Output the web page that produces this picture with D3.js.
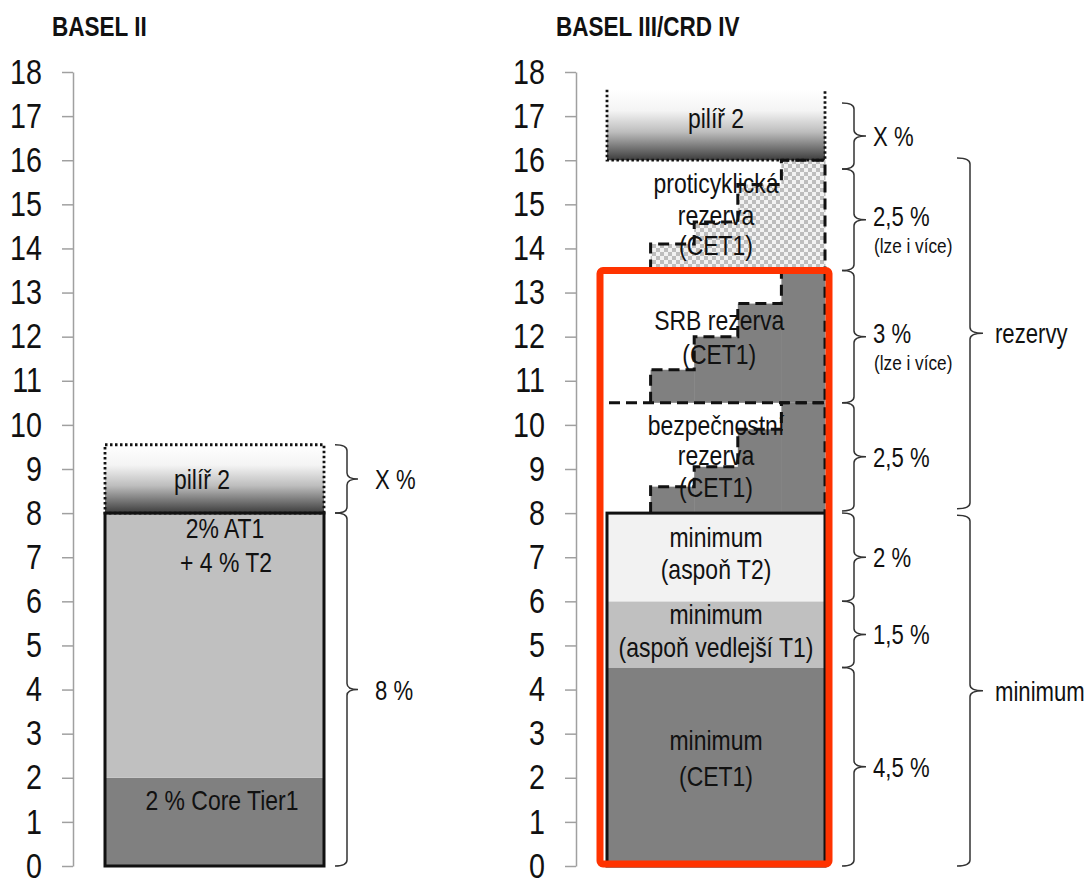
<!DOCTYPE html>
<html><head><meta charset="utf-8">
<script src="https://cdn.jsdelivr.net/npm/d3@7"></script>
<style>
body{margin:0;background:#fff;}
svg{display:block;}
text{font-family:"Liberation Sans",Arial,sans-serif;fill:#111;}
</style></head><body><svg id="c" width="1090" height="879"></svg>
<script>
// ================= DATA =================
const panelTitles = ["BASEL II", "BASEL III/CRD IV"];
const tickValues = [0,1,2,3,4,5,6,7,8,9,10,11,12,13,14,15,16,17,18];
const tickLabels = ["0","1","2","3","4","5","6","7","8","9","10","11","12","13","14","15","16","17","18"];

// Basel II stack
const b2Keys = ["core", "at1t2"];
const b2From = [0, 2];
const b2To = [2, 8];
const b2Pillar2 = [8, 9.55];

// Basel III minimum stack
const b3MinKeys = ["cet1", "at1", "t2"];
const b3MinFrom = [0, 4.5, 6];
const b3MinTo = [4.5, 6, 8];

// Basel III buffers drawn as staircases over five columns
const stepCols = ["c1", "c2", "c3", "c4", "c5"];
const conservationSteps = [8, 8.6, 9.05, 9.9, 10.5];
const srbSteps = [10.5, 11.25, 12.0, 12.75, 13.5];
const ccybSteps = [13.5, 14.1, 14.6, 15.45, 16.0];
const b3Pillar2 = [16, 17.6];
const highlightRange = [0, 13.5];

// In-bar labels (text + baseline value)
const b2LabelText = ["2 % Core Tier1", "2% AT1", "+ 4 % T2", "pilíř 2"];
const b2LabelValue = [1.27, 7.44, 6.67, 8.55];
const b3LabelText = ["pilíř 2", "proticyklická", "rezerva", "(CET1)", "SRB rezerva", "(CET1)",
  "bezpečnostní", "rezerva", "(CET1)", "minimum", "(aspoň T2)", "minimum", "(aspoň vedlejší T1)", "minimum", "(CET1)"];
const b3LabelValue = [16.73, 15.26, 14.53, 13.85, 12.15, 11.38, 9.77, 9.09, 8.37, 7.23, 6.51, 5.49, 4.74, 2.63, 1.81];

// Braces
const b2BraceFrom = [8, 0];
const b2BraceTo = [9.55, 8];
const b2BraceText = [["X %"], ["8 %"]];
const b3BraceFrom = [15.8, 13.5, 10.5, 8.05, 6, 4.5, 0];
const b3BraceTo = [17.3, 15.8, 13.5, 10.5, 8, 6, 4.5];
const b3BraceText = [["X %"], ["2,5 %", "(lze i více)"], ["3 %", "(lze i více)"], ["2,5 %"], ["2 %"], ["1,5 %"], ["4,5 %"]];
const groupBraceFrom = [8.1, 0];
const groupBraceTo = [16.05, 7.95];
const groupBraceText = [["rezervy"], ["minimum"]];

// ================= STYLE / LAYOUT =================
const fills = { core: "#808080", at1t2: "#c0c0c0", cet1: "#808080", at1: "#c0c0c0", t2: "#f2f2f2" };
const NARROW = 0.82;
const svg = d3.select("#c");
const y = d3.scaleLinear().domain([0, 18]).range([866, 72]);

function ntext(parent, x, yy, str, size, anchor, weight) {
  return parent.append("text")
    .attr("transform", `translate(${x},${yy}) scale(${NARROW},1)`)
    .attr("text-anchor", anchor || "start")
    .attr("font-size", size).attr("font-weight", weight || "normal").text(str);
}

const defs = svg.append("defs");
const grad = defs.append("linearGradient").attr("id", "p2grad").attr("x1", 0).attr("y1", 0).attr("x2", 0).attr("y2", 1);
[[0, "#ffffff"], [0.3, "#f4f4f4"], [0.6, "#bdbdbd"], [1, "#3c3c3c"]].forEach(s =>
  grad.append("stop").attr("offset", s[0]).attr("stop-color", s[1]));
const pat = defs.append("pattern").attr("id", "checker").attr("patternUnits", "userSpaceOnUse")
  .attr("width", 8).attr("height", 8);
pat.append("rect").attr("width", 8).attr("height", 8).attr("fill", "#f2f2f2");
pat.append("rect").attr("width", 4).attr("height", 4).attr("fill", "#bdbdbd");
pat.append("rect").attr("x", 4).attr("y", 4).attr("width", 4).attr("height", 4).attr("fill", "#bdbdbd");

const panels = [
  { axisX: 73, x0: 105, x1: 324, titleX: 52 },
  { axisX: 576, x0: 607, x1: 825, titleX: 556 }
];

// titles
panels.forEach((p, i) => ntext(svg, p.titleX, 36, panelTitles[i], 27.5, "start", "bold"));

// axes
panels.forEach(p => {
  const g = svg.append("g").attr("transform", `translate(${p.axisX},0)`)
    .call(d3.axisLeft(y).tickValues(tickValues).tickFormat((d, i) => tickLabels[i])
      .tickSize(11).tickSizeOuter(0).tickPadding(20));
  g.select(".domain").attr("stroke", "#a0a0a0").attr("stroke-width", 1.5);
  g.selectAll(".tick line").attr("stroke", "#a0a0a0").attr("stroke-width", 1.5);
  g.selectAll(".tick text").attr("font-size", 35).attr("fill", "#111")
    .attr("font-family", '"Liberation Sans",Arial,sans-serif')
    .attr("x", -31 / NARROW).attr("transform", `scale(${NARROW},1)`);
});

// ---------- Basel II ----------
const P0 = panels[0];
const xs0 = d3.scaleLinear().domain([0, 1]).range([P0.x0, P0.x1]);
svg.append("g").selectAll("rect").data(b2Keys).join("rect")
  .attr("x", xs0(0)).attr("width", xs0(1) - xs0(0))
  .attr("y", (d, i) => y(b2To[i])).attr("height", (d, i) => y(b2From[i]) - y(b2To[i]))
  .attr("fill", d => fills[d]);
svg.append("rect").attr("x", xs0(0)).attr("width", xs0(1) - xs0(0))
  .attr("y", y(b2Pillar2[1])).attr("height", y(b2Pillar2[0]) - y(b2Pillar2[1]))
  .attr("fill", "url(#p2grad)").attr("stroke", "#111").attr("stroke-width", 2.8).attr("stroke-dasharray", "2.5,2.5");
svg.append("rect").attr("x", xs0(0)).attr("width", xs0(1) - xs0(0))
  .attr("y", y(b2To[1])).attr("height", y(0) - y(b2To[1]))
  .attr("fill", "none").attr("stroke", "#111").attr("stroke-width", 3);
const b2LabelX = [0.534, 0.548, 0.553, 0.443];
const gl0 = svg.append("g");
b2LabelText.forEach((t, i) => ntext(gl0, xs0(b2LabelX[i]), y(b2LabelValue[i]), t, 28, "middle"));

// ---------- Basel III ----------
const P1 = panels[1];
const xs1 = d3.scaleLinear().domain([0, 1]).range([P1.x0, P1.x1]);
const band = d3.scaleBand().domain(stepCols).range([P1.x0, P1.x1]).padding(0);

// minimum stack
svg.append("g").selectAll("rect").data(b3MinKeys).join("rect")
  .attr("x", xs1(0)).attr("width", xs1(1) - xs1(0))
  .attr("y", (d, i) => y(b3MinTo[i])).attr("height", (d, i) => y(b3MinFrom[i]) - y(b3MinTo[i]))
  .attr("fill", d => fills[d]);

// staircases
const stairs = [
  { steps: conservationSteps, fill: "#808080" },
  { steps: srbSteps, fill: "#808080" },
  { steps: ccybSteps, fill: "url(#checker)" }
];
stairs.forEach(s => {
  const base = s.steps[0];
  svg.append("g").selectAll("rect").data(stepCols).join("rect")
    .attr("x", d => band(d)).attr("width", band.bandwidth() + 0.5)
    .attr("y", (d, i) => y(s.steps[i])).attr("height", (d, i) => y(base) - y(s.steps[i]))
    .attr("fill", s.fill);
});

// pillar 2
svg.append("rect").attr("x", xs1(0)).attr("width", xs1(1) - xs1(0))
  .attr("y", y(b3Pillar2[1])).attr("height", y(b3Pillar2[0]) - y(b3Pillar2[1]))
  .attr("fill", "url(#p2grad)");

// labels
const gl1 = svg.append("g");
b3LabelText.forEach((t, i) =>
  ntext(gl1, xs1(i === 4 || i === 5 ? 0.515 : 0.5), y(b3LabelValue[i]), t, 28, "middle"));

// dashed staircase outlines
stairs.forEach(s => {
  const base = s.steps[0];
  let d = `M${band(stepCols[1])},${y(base)}`;
  for (let i = 1; i < stepCols.length; i++) {
    d += `V${y(s.steps[i])}H${i + 1 < stepCols.length ? band(stepCols[i + 1]) : xs1(1)}`;
  }
  d += `V${y(base)}`;
  svg.append("path").attr("d", d).attr("fill", "none").attr("stroke", "#111")
    .attr("stroke-width", 3).attr("stroke-dasharray", "11,6");
});
// dashed separation line between conservation buffer and SRB
svg.append("line").attr("x1", xs1(0) + 2).attr("x2", xs1(1)).attr("y1", y(srbSteps[0])).attr("y2", y(srbSteps[0]))
  .attr("stroke", "#111").attr("stroke-width", 3).attr("stroke-dasharray", "11,6");

// pillar 2 dotted outline (left, bottom, right)
{
  const t = y(b3Pillar2[1]), b = y(b3Pillar2[0]);
  svg.append("path").attr("d", `M${xs1(0)},${t}V${b}H${xs1(1)}V${t}`)
    .attr("fill", "none").attr("stroke", "#111").attr("stroke-width", 2.8).attr("stroke-dasharray", "2.5,2.5");
}

// minimum box border
svg.append("rect").attr("x", xs1(0)).attr("width", xs1(1) - xs1(0))
  .attr("y", y(b3MinTo[2])).attr("height", y(0) - y(b3MinTo[2]))
  .attr("fill", "none").attr("stroke", "#111").attr("stroke-width", 3);

// red highlight
svg.append("rect").attr("x", xs1(0) - 7).attr("width", xs1(1) - xs1(0) + 11)
  .attr("y", y(highlightRange[1])).attr("height", y(highlightRange[0]) - 2 - y(highlightRange[1]))
  .attr("rx", 3).attr("fill", "none").attr("stroke", "#ff3300").attr("stroke-width", 7);

// ---------- braces ----------
function brace(xe, xs, xt, yTop, yBot) {
  const r = 6, m = (yTop + yBot) / 2;
  return `M${xe},${yTop}Q${xs},${yTop} ${xs},${yTop + r}L${xs},${m - r}Q${xs},${m} ${xt},${m}` +
    `M${xt},${m}Q${xs},${m} ${xs},${m + r}L${xs},${yBot - r}Q${xs},${yBot} ${xe},${yBot}`;
}
function drawBraces(from, to, texts, xe, xsp, xt, tx) {
  const g = svg.append("g");
  from.forEach((f, i) => {
    const yt = y(to[i]), yb = y(f), m = (yt + yb) / 2;
    g.append("path").attr("d", brace(xe, xsp, xt, yt, yb)).attr("fill", "none")
      .attr("stroke", "#333").attr("stroke-width", 1.5);
    const lines = texts[i];
    if (lines.length === 1) {
      ntext(g, tx, m + 10, lines[0], 27);
    } else {
      ntext(g, tx, m + 6, lines[0], 27);
      ntext(g, tx + 1, m + 33, lines[1], 21);
    }
  });
}
drawBraces(b2BraceFrom, b2BraceTo, b2BraceText, 335, 347, 358, 375);
drawBraces(b3BraceFrom, b3BraceTo, b3BraceText, 842, 854, 866, 873);
drawBraces(groupBraceFrom, groupBraceTo, groupBraceText, 957, 970, 983, 995);
</script></body></html>
